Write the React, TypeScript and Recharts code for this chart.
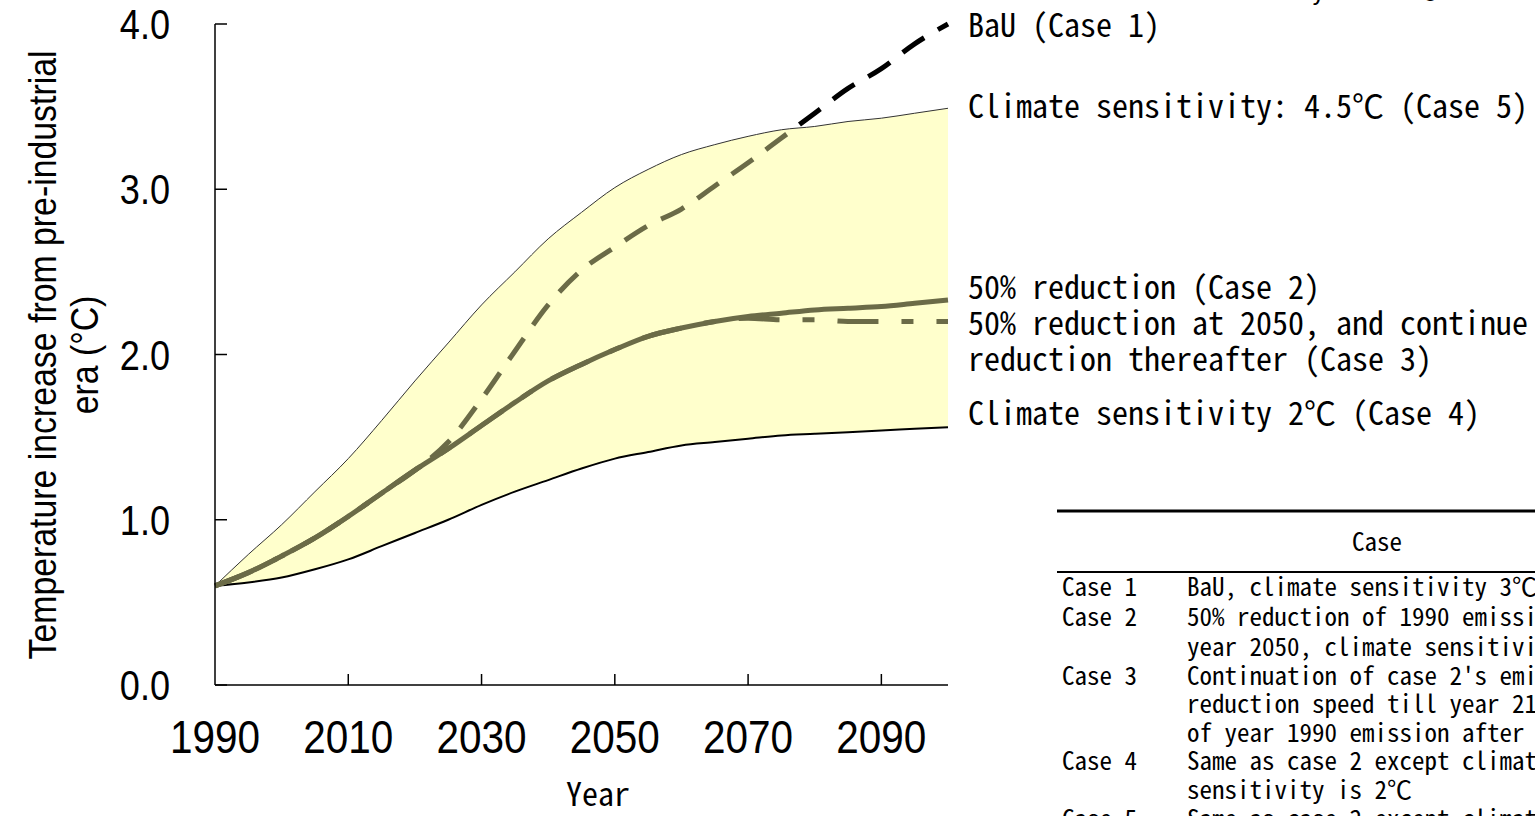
import React from "react";
import { ComposedChart, Area, Line, XAxis, YAxis } from "recharts";

// values, every 5 years
const years = [
  1990, 1995, 2000, 2005, 2010, 2015, 2020, 2025, 2030, 2035, 2040, 2045,
  2050, 2055, 2060, 2065, 2070, 2075, 2080, 2085, 2090, 2095, 2100,
];
const case5Upper = [
  0.6, 0.79, 0.97, 1.17, 1.37, 1.6, 1.84, 2.07, 2.3, 2.5, 2.7, 2.86, 3.01,
  3.12, 3.21, 3.27, 3.32, 3.36, 3.38, 3.41, 3.43, 3.46, 3.49,
];
const case4Lower = [
  0.6, 0.62, 0.65, 0.7, 0.76, 0.84, 0.92, 1.0, 1.09, 1.17, 1.24, 1.31, 1.37,
  1.41, 1.45, 1.47, 1.49, 1.51, 1.52, 1.53, 1.54, 1.55, 1.56,
];
const case2 = [
  0.6, 0.68, 0.78, 0.89, 1.02, 1.16, 1.3, 1.43, 1.57, 1.71, 1.84, 1.94, 2.03,
  2.11, 2.16, 2.2, 2.23, 2.25, 2.27, 2.28, 2.29, 2.31, 2.33,
];
const case3 = [
  0.6, 0.68, 0.78, 0.89, 1.02, 1.16, 1.3, 1.43, 1.57, 1.71, 1.84, 1.94, 2.03,
  2.11, 2.16, 2.2, 2.22, 2.21, 2.21, 2.2, 2.2, 2.2, 2.2,
];
const case1Bau = [
  0.6, 0.68, 0.78, 0.89, 1.02, 1.16, 1.3, 1.47, 1.73, 2.02, 2.3, 2.51, 2.65,
  2.78, 2.88, 3.02, 3.16, 3.31, 3.46, 3.61, 3.73, 3.88, 4.0,
];

const xTicks = [1990, 2010, 2030, 2050, 2070, 2090];
const yTicks = [0, 1, 2, 3, 4];

const annotations = [
  { text: "BaU (Case 1)", y: 37 },
  { text: "Climate sensitivity: 4.5℃ (Case 5)", y: 118 },
  { text: "50% reduction (Case 2)", y: 299 },
  { text: "50% reduction at 2050, and continue", y: 335 },
  { text: "reduction thereafter (Case 3)", y: 371 },
  { text: "Climate sensitivity 2℃ (Case 4)", y: 425 },
];

const caseRows = [
  { label: "Case 1", lines: ["BaU, climate sensitivity 3℃"] },
  {
    label: "Case 2",
    lines: ["50% reduction of 1990 emission by", "year 2050, climate sensitivity 3℃"],
  },
  {
    label: "Case 3",
    lines: [
      "Continuation of case 2's emission",
      "reduction speed till year 2100",
      "of year 1990 emission after 2050",
    ],
  },
  {
    label: "Case 4",
    lines: ["Same as case 2 except climate", "sensitivity is  2℃"],
  },
  {
    label: "Case 5",
    lines: ["Same as case 2 except climate", "sensitivity is 4.5℃"],
  },
];

const data = years.map((year, i) => ({
  year,
  band: [case4Lower[i], case5Upper[i]],
  upper: case5Upper[i],
  lower: case4Lower[i],
  case2: case2[i],
  case3: case3[i],
  bau: case1Bau[i],
}));

const OLIVE = "#6b6b47";
const numFont = "'Liberation Sans', Arial, sans-serif";
const jpFont = "'Noto Sans Mono CJK JP', 'Noto Sans CJK JP', monospace";

const YTick = ({ x, y, payload }: any) => (
  <g>
    <line x1={x} y1={y} x2={x + 12} y2={y} stroke="#000" strokeWidth={1.5} />
    <text
      transform={`translate(${x - 45},${y + 15}) scale(0.86,1)`}
      textAnchor="end"
      fontFamily={numFont}
      fontSize={42}
      fill="#000"
    >
      {Number(payload.value).toFixed(1)}
    </text>
  </g>
);

const XTick = ({ x, y, payload }: any) => (
  <g>
    {payload.value !== 1990 && (
      <line x1={x} y1={y} x2={x} y2={y - 11} stroke="#000" strokeWidth={1.5} />
    )}
    <text
      transform={`translate(${x},${y + 68}) scale(0.88,1)`}
      textAnchor="middle"
      fontFamily={numFont}
      fontSize={46}
      fill="#000"
    >
      {payload.value}
    </text>
  </g>
);

const rowY = [587, 617, 647, 676, 704, 733, 761, 790, 819];

const App = () => {
  let lineIdx = 0;
  return (
    <div
      style={{
        position: "fixed",
        left: 0,
        top: 0,
        width: 1535,
        height: 816,
        overflow: "hidden",
        background: "#fff",
      }}
    >
      <svg width={0} height={0} style={{ position: "absolute" }}>
        <defs>
          <linearGradient id="bauStroke" x1="0" y1="0" x2="1" y2="0">
            <stop offset="0%" stopColor={OLIVE} />
            <stop offset="79%" stopColor={OLIVE} />
            <stop offset="79%" stopColor="#000" />
            <stop offset="100%" stopColor="#000" />
          </linearGradient>
        </defs>
      </svg>

      <ComposedChart
        width={1535}
        height={816}
        data={data}
        margin={{ top: 24, right: 587, left: 115, bottom: 31 }}
      >
        <XAxis
          dataKey="year"
          type="number"
          domain={[1990, 2100]}
          ticks={xTicks}
          tick={<XTick />}
          tickLine={false}
          tickSize={0}
          tickMargin={0}
          height={100}
          axisLine={{ stroke: "#000", strokeWidth: 1.5 }}
          interval={0}
        />
        <YAxis
          type="number"
          domain={[0, 4]}
          ticks={yTicks}
          tick={<YTick />}
          tickLine={false}
          tickSize={0}
          tickMargin={0}
          width={100}
          axisLine={{ stroke: "#000", strokeWidth: 1.5 }}
          interval={0}
        />
        <Area
          dataKey="band"
          type="monotone"
          fill="#ffffcc"
          fillOpacity={1}
          stroke="none"
          isAnimationActive={false}
        />
        <Line
          dataKey="upper"
          type="monotone"
          stroke="#333"
          strokeWidth={1}
          dot={false}
          isAnimationActive={false}
        />
        <Line
          dataKey="lower"
          type="monotone"
          stroke="#000"
          strokeWidth={2}
          dot={false}
          isAnimationActive={false}
        />
        <Line
          dataKey="case3"
          type="monotone"
          stroke={OLIVE}
          strokeWidth={5}
          strokeDasharray="41 23 12 23"
          dot={false}
          isAnimationActive={false}
        />
        <Line
          dataKey="bau"
          type="monotone"
          stroke="url(#bauStroke)"
          strokeWidth={5}
          strokeDasharray="26 16"
          dot={false}
          isAnimationActive={false}
        />
        <Line
          dataKey="case2"
          type="monotone"
          stroke={OLIVE}
          strokeWidth={5}
          dot={false}
          isAnimationActive={false}
        />
      </ComposedChart>

      <svg
        width={1535}
        height={816}
        style={{ position: "absolute", left: 0, top: 0, pointerEvents: "none" }}
      >
        {/* y axis title */}
        <text
          transform="translate(56,355) rotate(-90) scale(0.89,1)"
          textAnchor="middle"
          fontFamily={numFont}
          fontSize={38}
          fill="#000"
        >
          Temperature increase from pre-industrial
        </text>
        <text
          transform="translate(98,355) rotate(-90) scale(0.89,1)"
          textAnchor="middle"
          fontFamily={numFont}
          fontSize={38}
          fill="#000"
        >
          era (°C)
        </text>

        <text
          x={598}
          y={806}
          textAnchor="middle"
          fontFamily={jpFont}
          fontSize={32}
          fill="#000"
        >
          Year
        </text>

        {annotations.map((a) => (
          <text
            key={a.text}
            x={968}
            y={a.y}
            fontFamily={jpFont}
            fontSize={32}
            fill="#000"
          >
            {a.text}
          </text>
        ))}

        {/* case table */}
        <line x1={1057} y1={511} x2={1535} y2={511} stroke="#000" strokeWidth={3} />
        <line x1={1057} y1={572} x2={1535} y2={572} stroke="#000" strokeWidth={2} />
        <text
          x={1377}
          y={551}
          textAnchor="middle"
          fontFamily={jpFont}
          fontSize={25}
          fill="#000"
        >
          Case
        </text>
        {caseRows.map((row) => {
          const start = lineIdx;
          lineIdx += row.lines.length;
          return (
            <g key={row.label}>
              <text x={1062} y={rowY[start] + 9} fontFamily={jpFont} fontSize={25} fill="#000">
                {row.label}
              </text>
              {row.lines.map((ln, j) => (
                <text
                  key={j}
                  x={1187}
                  y={rowY[start + j] + 9}
                  fontFamily={jpFont}
                  fontSize={25}
                  fill="#000"
                >
                  {ln}
                </text>
              ))}
            </g>
          );
        })}
      </svg>
    </div>
  );
};

export default App;
